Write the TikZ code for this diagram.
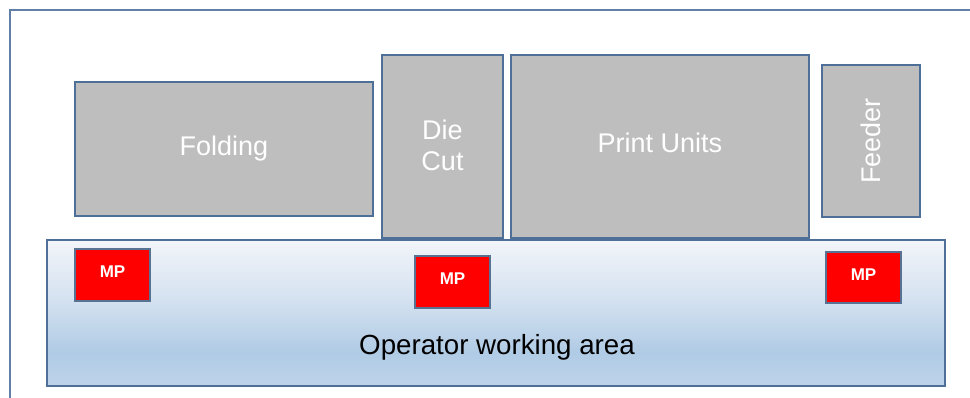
\documentclass[tikz,border=0pt]{standalone}
\usepackage{fontspec}
\setmainfont{Liberation Sans}
\definecolor{edge}{HTML}{4E6F98}
\definecolor{frame}{HTML}{5F7FA8}
\definecolor{machine}{HTML}{BEBEBE}
\definecolor{opA}{HTML}{F2F5FA}
\definecolor{opB}{HTML}{D5E2F0}
\definecolor{opC}{HTML}{B0CBE5}
\definecolor{opD}{HTML}{BED3EA}
\pgfdeclareverticalshading{opshade}{100bp}{color(0bp)=(opD); color(25bp)=(opD); color(36.5bp)=(opC); color(55bp)=(opB); color(75bp)=(opA); color(100bp)=(opA)}
\tikzset{
  unitbox/.style={draw=edge, line width=2pt, fill=machine, inner sep=0pt},
  unitlabel/.style={text=white, font=\fontsize{27}{31}\selectfont, align=center},
  mpbox/.style={draw=edge!80!gray, line width=2pt, fill=red},
  mplabel/.style={text=white, font=\bfseries\fontsize{17}{19}\selectfont},
}
\begin{document}
\begin{tikzpicture}[x=1pt,y=-1pt]
\useasboundingbox (0,0) rectangle (970,397);
\clip (0,0) rectangle (970,397);
\fill[white] (0,0) rectangle (970,397);
% outer frame
\draw[frame, line width=1.8pt] (10,10) rectangle (990,420);
% machine units
\draw[unitbox] (75,82) rectangle (373,216);
\node[unitlabel] (folding) at (224,149) {Folding};
\draw[unitbox] (382,55) rectangle (503,238);
\node[unitlabel] (diecut) at (442.5,145) {Die\\Cut};
\draw[unitbox] (511,55) rectangle (809,238);
\node[unitlabel] (print) at (660,143) {Print Units};
\draw[unitbox] (822,65) rectangle (920,217);
\node[unitlabel, rotate=90] (feeder) at (871,141) {Feeder};
% operator area
\path[shading=opshade] (47,240) rectangle (945,386);
\draw[edge, line width=2pt] (47,240) rectangle (945,386);
\node[font=\fontsize{27.7}{31}\selectfont, text=black] (op) at (497,347) {Operator working area};
% MP boxes
\draw[mpbox] (75,249) rectangle (150,301);
\node[mplabel] (mp1) at (112.5,272) {MP};
\draw[mpbox] (415,256) rectangle (490,308);
\node[mplabel] (mp2) at (452.5,279) {MP};
\draw[mpbox] (826,252) rectangle (901,303);
\node[mplabel] (mp3) at (863.5,275) {MP};
\end{tikzpicture}
\end{document}
